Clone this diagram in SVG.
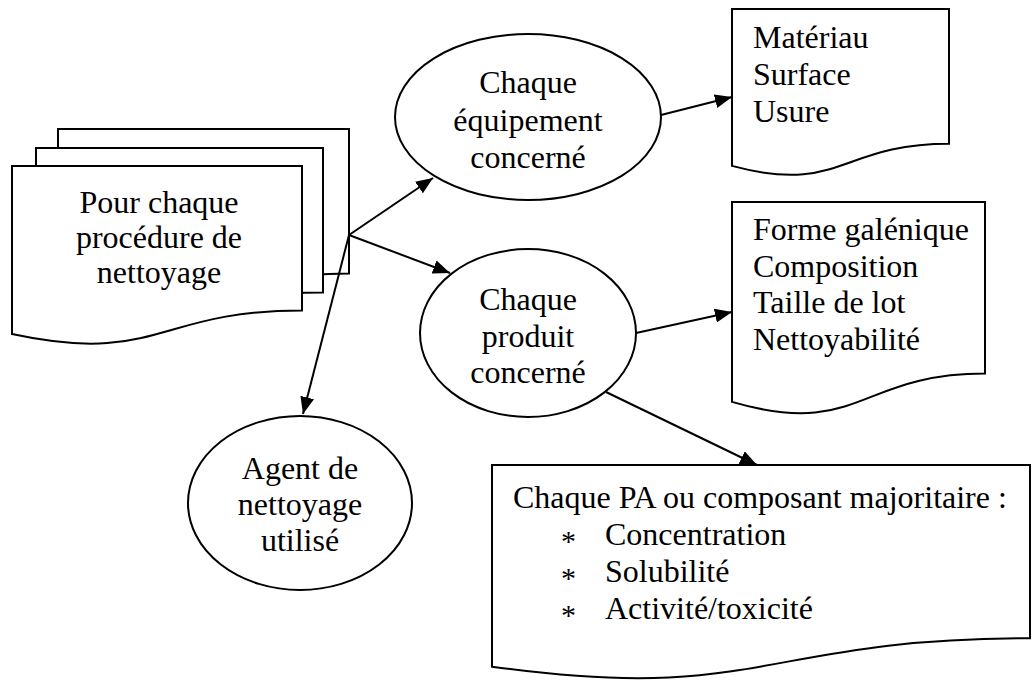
<svg xmlns="http://www.w3.org/2000/svg" width="1035" height="682" viewBox="0 0 1035 682">
<defs>
<style>
.shape{fill:#fff;stroke:#000;stroke-width:2}
.t{font-family:"Liberation Serif","Times New Roman",serif;font-size:32px;fill:#000}
.c{text-anchor:middle}
.b{font-family:"Liberation Serif","Times New Roman",serif;font-size:30px;fill:#000}
.conn line{stroke:#000;stroke-width:2;marker-end:url(#ah)}
</style>
<marker id="ah" markerUnits="userSpaceOnUse" markerWidth="18" markerHeight="14" refX="17" refY="7" orient="auto">
<path d="M0,0 L17,7 L0,14 Z" fill="#000"/>
</marker>
</defs>
<rect width="1035" height="682" fill="#fff"/>
<g id="procedure">
<path class="shape" d="M58,129 H349 V273.4 C203.5,273.4 203.5,328.4 58,297.1 Z"/>
<path class="shape" d="M36,148 H323 V292.4 C179.5,292.4 179.5,347.4 36,316.1 Z"/>
<path class="shape" d="M12,166 H302 V310.4 C157,310.4 157,365.4 12,334.1 Z"/>
<text class="t c" x="159" y="213">Pour chaque</text>
<text class="t c" x="159" y="248">procédure de</text>
<text class="t c" x="159" y="283">nettoyage</text>
</g>
<g id="equipement">
<ellipse class="shape" cx="528" cy="117" rx="133" ry="83"/>
<text class="t c" x="528" y="93">Chaque</text>
<text class="t c" x="528" y="131">équipement</text>
<text class="t c" x="528" y="168">concerné</text>
</g>
<g id="produit">
<ellipse class="shape" cx="528" cy="333" rx="108" ry="84"/>
<text class="t c" x="528" y="310">Chaque</text>
<text class="t c" x="528" y="347">produit</text>
<text class="t c" x="528" y="383">concerné</text>
</g>
<g id="agent">
<ellipse class="shape" cx="300" cy="503" rx="112" ry="87"/>
<text class="t c" x="300" y="479">Agent de</text>
<text class="t c" x="300" y="515">nettoyage</text>
<text class="t c" x="300" y="551">utilisé</text>
</g>
<g id="materiau">
<path class="shape" d="M732,9 H949 V143.7 C840.5,143.7 840.5,195.1 732,165.9 Z"/>
<text class="t" x="753" y="48">Matériau</text>
<text class="t" x="753" y="85">Surface</text>
<text class="t" x="753" y="122">Usure</text>
</g>
<g id="forme">
<path class="shape" d="M732,202 H985 V373.6 C858.5,373.6 858.5,439 732,401.9 Z"/>
<text class="t" x="753" y="240">Forme galénique</text>
<text class="t" x="753" y="277">Composition</text>
<text class="t" x="753" y="313">Taille de lot</text>
<text class="t" x="753" y="350">Nettoyabilité</text>
</g>
<g id="pa">
<path class="shape" d="M492,465 H1030 V638.2 C761,638.2 761,704.2 492,666.7 Z"/>
<text class="t" x="513" y="508">Chaque PA ou composant majoritaire :</text>
<text class="b" x="561" y="551">*</text>
<text class="t" x="605" y="545">Concentration</text>
<text class="b" x="561" y="588">*</text>
<text class="t" x="605" y="582">Solubilité</text>
<text class="b" x="561" y="625">*</text>
<text class="t" x="605" y="619">Activité/toxicité</text>
</g>
<g id="connectors" class="conn">
<line x1="349" y1="235" x2="433" y2="178"/>
<line x1="349" y1="235" x2="450" y2="273"/>
<line x1="349" y1="235" x2="303" y2="414"/>
<line x1="661" y1="115" x2="732" y2="97"/>
<line x1="636" y1="333" x2="732" y2="312"/>
<line x1="606" y1="392" x2="757" y2="465"/>
</g>
</svg>
